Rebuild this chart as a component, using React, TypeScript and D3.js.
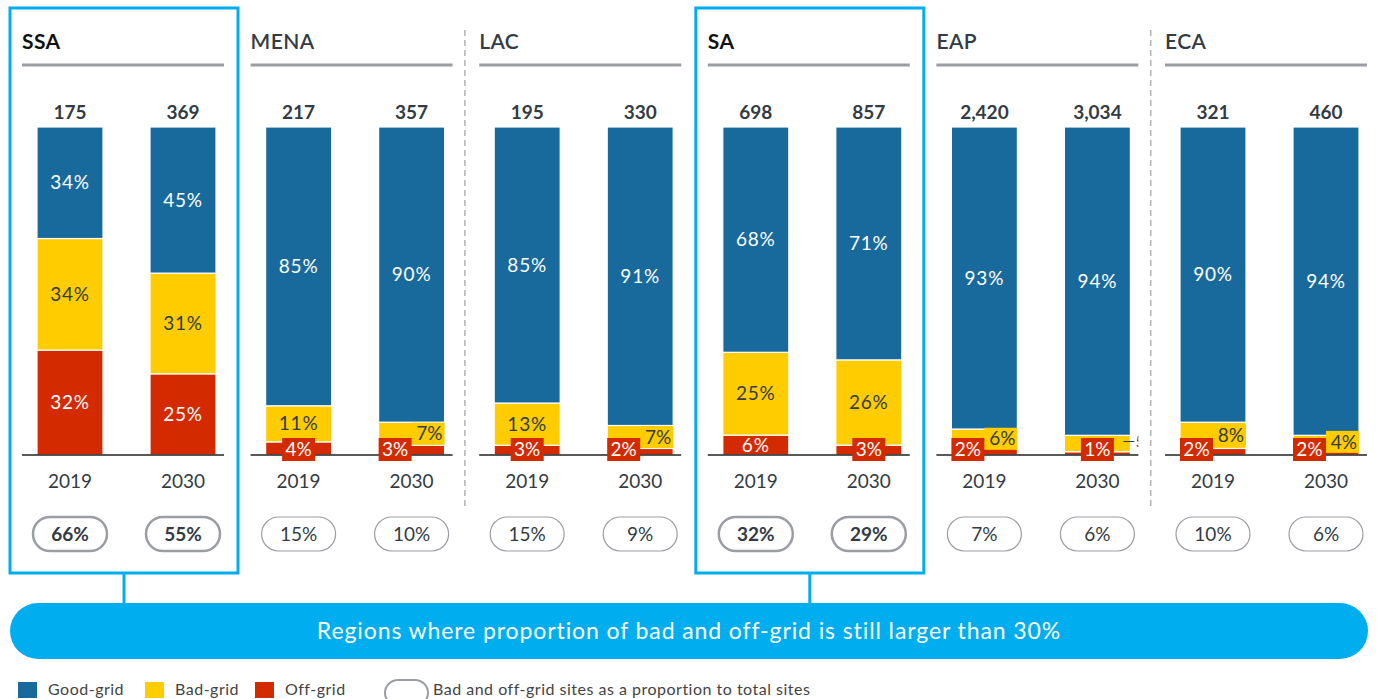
import React from 'react';
import * as d3 from 'd3';

// regions and years shown in the chart
const regions = ['SSA', 'MENA', 'LAC', 'SA', 'EAP', 'ECA'];
const years = ['2019', '2030'];
const highlighted = ['SSA', 'SA'];

// shares per bar, in order SSA 2019, SSA 2030, MENA 2019, ...
const goodGrid = [34, 45, 85, 90, 85, 91, 68, 71, 93, 94, 90, 94];
const badGrid = [34, 31, 11, 7, 13, 7, 25, 26, 6, 5, 8, 4];
const offGrid = [32, 25, 4, 3, 3, 2, 6, 3, 2, 1, 2, 2];
const totalSites = ['175', '369', '217', '357', '195', '330', '698', '857', '2,420', '3,034', '321', '460'];
const badOffShare = ['66%', '55%', '15%', '10%', '15%', '9%', '32%', '29%', '7%', '6%', '10%', '6%'];
// bad-grid label drawn outside with a leader line
const badLabelOutside = ['EAP 2030'];

const bannerText = 'Regions where proportion of bad and off-grid is still larger than 30%';
const legendItems = ['Good-grid', 'Bad-grid', 'Off-grid'];
const legendPillText = 'Bad and off-grid sites as a proportion to total sites';

const COLORS: Record<string, string> = { good: '#186a9c', bad: '#ffcc00', off: '#d42a00' };
const CYAN = '#00aeef';
const FONT = 'Lato, "Open Sans", sans-serif';
const TEXT = '#333b44';

const W = 1385;
const H = 699;
const PANEL_W = 202;
const BASE = 455;
const TOP = 127;

type Row = { region: string; year: string; good: number; bad: number; off: number; total: string; share: string };

const rows: Row[] = [];
regions.forEach((r, i) => {
  years.forEach((y, j) => {
    const k = i * 2 + j;
    rows.push({ region: r, year: y, good: goodGrid[k], bad: badGrid[k], off: offGrid[k], total: totalSites[k], share: badOffShare[k] });
  });
});

export default function App() {
  const panelX = d3.scaleLinear().domain([0, regions.length - 1]).range([22, 1165]);
  const barX = d3.scaleBand<string>().domain(years).range([15, 194]).paddingInner(0.416).paddingOuter(0);
  const y = d3.scaleLinear().domain([0, 1]).range([BASE, TOP]);

  // normalise each bar to 100% and stack off -> bad -> good
  const norm = rows.map(d => {
    const s = d.good + d.bad + d.off;
    return { ...d, good: d.good / s, bad: d.bad / s, off: d.off / s };
  });
  const series = d3.stack<any>().keys(['off', 'bad', 'good'])(norm as any);

  const bw = barX.bandwidth();
  const LS = 0.8; // letter spacing for the bar labels

  return (
    <svg width={W} height={H} style={{ position: 'absolute', left: 0, top: 0, fontFamily: FONT }}>
      <defs>
        {regions.map((r, i) => (
          <clipPath id={`clip-${r}`} key={r}>
            <rect x={panelX(i) - 15} y={0} width={PANEL_W + 15} height={H} />
          </clipPath>
        ))}
      </defs>

      {/* dashed separators */}
      {[1, 4].map(i => {
        const x = (panelX(i) + PANEL_W + panelX(i + 1)) / 2 - 1;
        return <line key={i} x1={x} x2={x} y1={30} y2={508} stroke="#aeb2b6" strokeWidth={1.5} strokeDasharray="6,4" />;
      })}

      {regions.map((r, i) => {
        const px = panelX(i);
        const hl = highlighted.includes(r);
        return (
          <g key={r}>
            <text x={px} y={49} fontSize={21} fontWeight={hl ? 700 : 600} fill={hl ? '#111' : TEXT} letterSpacing={0.4}>{r}</text>
            <line x1={px} x2={px + PANEL_W} y1={65} y2={65} stroke="#9a9ea3" strokeWidth={3} />
          </g>
        );
      })}

      {/* stacked bars */}
      {series.map(s => (
        <g key={s.key} fill={COLORS[s.key]}>
          {s.map((seg, k) => {
            const d = rows[k];
            const x = panelX(regions.indexOf(d.region)) + (barX(d.year) as number);
            return <rect key={k} x={x} y={y(seg[1])} width={bw} height={y(seg[0]) - y(seg[1])} stroke="#fff" strokeWidth={1.2} />;
          })}
        </g>
      ))}

      {/* baselines */}
      {regions.map((r, i) => (
        <line key={r} x1={panelX(i)} x2={panelX(i) + PANEL_W} y1={BASE} y2={BASE} stroke="#222" strokeWidth={1.5} />
      ))}

      {/* labels */}
      {rows.map((d, k) => {
        const i = regions.indexOf(d.region);
        const hl = highlighted.includes(d.region);
        const x0 = panelX(i) + (barX(d.year) as number);
        const cx = x0 + bw / 2;
        const gSeg = series[2][k];
        const bSeg = series[1][k];
        const oSeg = series[0][k];
        const bMid = (y(bSeg[0]) + y(bSeg[1])) / 2;
        const oMid = (y(oSeg[0]) + y(oSeg[1])) / 2;
        const outside = badLabelOutside.includes(`${d.region} ${d.year}`);
        const badSmall = d.bad < 10 && !outside;
        const offInside = d.off >= 6;
        const offBoxX = badSmall ? x0 : cx - 16.5;
        return (
          <g key={k}>
            <text x={cx} y={119} textAnchor="middle" fontSize={19} fontWeight={700} fill={TEXT}>{d.total}</text>
            <text x={cx} y={(y(gSeg[0]) + y(gSeg[1])) / 2} dy="0.35em" textAnchor="middle" fontSize={19} fill="#fff" letterSpacing={LS}>{d.good}%</text>
            {d.bad >= 10 && (
              <text x={cx} y={bMid} dy="0.35em" textAnchor="middle" fontSize={19} fill={TEXT} letterSpacing={LS}>{d.bad}%</text>
            )}
            {badSmall && (
              <g>
                <rect x={x0 + bw - 33} y={bMid - 11} width={33} height={22} fill={COLORS.bad} />
                <text x={x0 + bw - 2} y={bMid} dy="0.35em" textAnchor="end" fontSize={19} fill={TEXT}>{d.bad}%</text>
              </g>
            )}
            {outside && (
              <g clipPath={`url(#clip-${d.region})`}>
                <line x1={x0 + bw - 7} x2={x0 + bw + 4} y1={bMid - 2} y2={bMid - 2} stroke={TEXT} strokeWidth={1} />
                <text x={x0 + bw + 5} y={bMid - 2} dy="0.35em" fontSize={15} fill={TEXT}>{d.bad}%</text>
              </g>
            )}
            {offInside ? (
              <text x={cx} y={oMid} dy="0.35em" textAnchor="middle" fontSize={19} fill="#fff" letterSpacing={LS}>{d.off}%</text>
            ) : (
              <g>
                <rect x={offBoxX} y={BASE - 17} width={33} height={23} fill={COLORS.off} />
                <text x={offBoxX + 16.5} y={BASE - 5.5} dy="0.35em" textAnchor="middle" fontSize={19} fill="#fff">{d.off}%</text>
              </g>
            )}
            <text x={cx} y={488} textAnchor="middle" fontSize={19} fill={TEXT}>{d.year}</text>
            <rect x={cx - 37} y={517} width={74} height={34} rx={17} fill="#fff" stroke="#9a9ea3" strokeWidth={hl ? 2.5 : 1.2} />
            <text x={cx} y={534} dy="0.35em" textAnchor="middle" fontSize={19} fontWeight={hl ? 700 : 400} fill={TEXT}>{d.share}</text>
          </g>
        );
      })}

      {/* highlight boxes and connectors */}
      {highlighted.map(r => {
        const i = regions.indexOf(r);
        const bx = panelX(i) - 12;
        const bwid = 228;
        return (
          <g key={r}>
            <rect x={bx} y={8} width={bwid} height={565} fill="none" stroke={CYAN} strokeWidth={3} />
            <line x1={bx + bwid / 2} x2={bx + bwid / 2} y1={573} y2={604} stroke={CYAN} strokeWidth={3} />
          </g>
        );
      })}

      <rect x={10} y={603} width={1358} height={56} rx={28} fill={CYAN} />
      <text x={689} y={631} dy="0.35em" textAnchor="middle" fontSize={23} letterSpacing={0.9} fill="#fff">{bannerText}</text>

      {/* legend */}
      {legendItems.map((t, i) => {
        const lx = [18, 145, 255][i];
        const key = ['good', 'bad', 'off'][i];
        return (
          <g key={t}>
            <rect x={lx} y={682} width={19} height={16} fill={COLORS[key]} />
            <text x={lx + 30} y={689} dy="0.35em" fontSize={16} letterSpacing={0.5} fill="#444">{t}</text>
          </g>
        );
      })}
      <rect x={385} y={680} width={43} height={26} rx={13} fill="#fff" stroke="#9a9ea3" strokeWidth={2} />
      <text x={433} y={689} dy="0.35em" fontSize={16} letterSpacing={0.5} fill="#444">{legendPillText}</text>
    </svg>
  );
}
